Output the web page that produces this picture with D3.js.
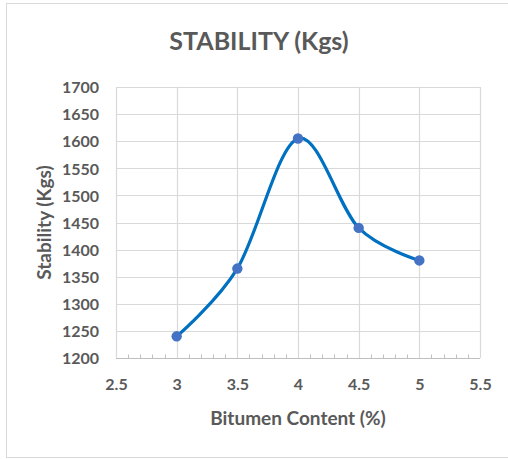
<!DOCTYPE html>
<html>
<head>
<meta charset="utf-8">
<script src="https://cdn.jsdelivr.net/npm/d3@7"></script>
<style>
  html, body { margin: 0; padding: 0; background: #fff; }
  svg { display: block; }
  text { font-family: Lato, "Open Sans", sans-serif; fill: #595959; font-weight: bold; }
</style>
</head>
<body>
<svg id="chart" width="508" height="459"></svg>
<script>
// Marshall stability vs bitumen content
const bitumenContent = [3, 3.5, 4, 4.5, 5];
const stability = [1240, 1365, 1605, 1440, 1380];
const xTicks = [2.5, 3, 3.5, 4, 4.5, 5, 5.5];
const yTicks = [1200, 1250, 1300, 1350, 1400, 1450, 1500, 1550, 1600, 1650, 1700];
const chartTitle = "STABILITY (Kgs)";
const xTitle = "Bitumen Content (%)";
const yTitle = "Stability (Kgs)";

const W = 508, H = 459;
const plot = { left: 116, top: 87, right: 480, bottom: 358 };

const svg = d3.select("#chart");

// outer chart frame
svg.append("rect")
  .attr("x", 6.5).attr("y", 3.5)
  .attr("width", W + 10).attr("height", 454)
  .attr("fill", "#fff").attr("stroke", "#D9D9D9").attr("stroke-width", 1);

const x = d3.scaleLinear().domain([2.5, 5.5]).range([plot.left, plot.right]);
const y = d3.scaleLinear().domain([1200, 1700]).range([plot.bottom, plot.top]);

// gridlines
const grid = svg.append("g").attr("stroke", "#D9D9D9").attr("stroke-width", 1.2);
grid.selectAll("line.h").data(yTicks.slice(1)).join("line")
  .attr("x1", plot.left).attr("x2", plot.right)
  .attr("y1", d => Math.round(y(d)) + 0.5).attr("y2", d => Math.round(y(d)) + 0.5);
grid.selectAll("line.v").data(xTicks).join("line")
  .attr("y1", plot.top).attr("y2", plot.bottom)
  .attr("x1", d => Math.round(x(d)) + 0.5).attr("x2", d => Math.round(x(d)) + 0.5);

// x axis with minor ticks pointing up into the plot
const minorTicks = d3.range(25, 56).map(v => v / 10).filter(v => Math.abs(v * 2 - Math.round(v * 2)) > 1e-6);
const xAxisG = svg.append("g").attr("transform", `translate(0,${Math.round(plot.bottom) + 0.5})`);
xAxisG.append("line").attr("x1", plot.left).attr("x2", plot.right)
  .attr("stroke", "#BFBFBF").attr("stroke-width", 1.2);
xAxisG.selectAll("line.minor").data(minorTicks).join("line")
  .attr("x1", d => Math.round(x(d)) + 0.5).attr("x2", d => Math.round(x(d)) + 0.5)
  .attr("y1", 0).attr("y2", -4)
  .attr("stroke", "#BFBFBF").attr("stroke-width", 1);

const xAxis = d3.axisBottom(x).tickValues(xTicks).tickSize(0).tickPadding(0).tickFormat(d3.format(""));
const xa = svg.append("g").attr("transform", `translate(0,${plot.bottom})`).call(xAxis);
xa.select(".domain").remove();
xa.selectAll("text").attr("dy", null).attr("y", 32).style("font-size", "16px")
  .style("font-family", "Lato, sans-serif").attr("fill", "#595959");

const yAxis = d3.axisLeft(y).tickValues(yTicks).tickSize(0).tickPadding(0).tickFormat(d3.format("d"));
const ya = svg.append("g").attr("transform", `translate(${plot.left},0)`).call(yAxis);
ya.select(".domain").remove();
ya.selectAll("text").attr("x", -17).attr("dy", "0.36em").style("font-size", "16px")
  .style("font-family", "Lato, sans-serif").attr("fill", "#595959");

// smoothed data line
const line = d3.line()
  .x((d, i) => x(bitumenContent[i]))
  .y(d => y(d))
  .curve(d3.curveCatmullRom.alpha(0));
svg.append("path").datum(stability)
  .attr("d", line)
  .attr("fill", "none").attr("stroke", "#0070C0")
  .attr("stroke-width", 3.2).attr("stroke-linecap", "round");

svg.selectAll("circle.pt").data(stability).join("circle")
  .attr("cx", (d, i) => x(bitumenContent[i])).attr("cy", d => y(d))
  .attr("r", 5.2).attr("fill", "#4472C4");

// titles
svg.append("text").attr("x", 259).attr("y", 50).attr("text-anchor", "middle")
  .style("font-size", "25px").text(chartTitle);
svg.append("text").attr("x", 298).attr("y", 425).attr("text-anchor", "middle")
  .style("font-size", "19px").text(xTitle);
svg.append("text").attr("transform", `translate(51,${(plot.top + plot.bottom) / 2}) rotate(-90)`)
  .attr("text-anchor", "middle").style("font-size", "19px").text(yTitle);
</script>
</body>
</html>
